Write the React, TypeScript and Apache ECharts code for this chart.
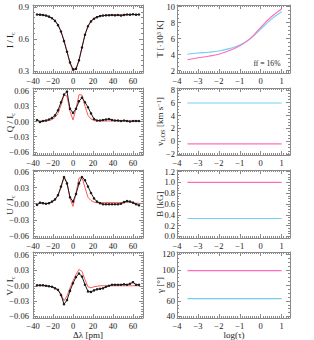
import React, { useEffect, useRef } from 'react';
import * as echarts from 'echarts';

const wavelength = [-36, -33, -30, -27, -24, -21, -18, -15, -12, -9, -6, -3, 0, 3, 6, 9, 12, 15, 18, 21, 24, 27, 30, 33, 36, 39, 42, 45, 48, 51, 54, 57, 60, 63, 66];
const iObs = [0.83, 0.828, 0.825, 0.82, 0.81, 0.795, 0.77, 0.73, 0.67, 0.58, 0.48, 0.38, 0.315, 0.32, 0.4, 0.52, 0.64, 0.72, 0.765, 0.79, 0.805, 0.815, 0.82, 0.822, 0.823, 0.825, 0.822, 0.825, 0.82, 0.826, 0.83, 0.828, 0.832, 0.828, 0.83];
const iFit = [0.83, 0.828, 0.826, 0.82, 0.81, 0.795, 0.772, 0.735, 0.675, 0.59, 0.48, 0.37, 0.305, 0.315, 0.4, 0.525, 0.645, 0.725, 0.77, 0.795, 0.808, 0.815, 0.82, 0.822, 0.824, 0.825, 0.826, 0.826, 0.827, 0.827, 0.828, 0.828, 0.829, 0.829, 0.83];
const qObs = [0.003, -0.001, 0.001, 0.002, 0.004, 0.007, 0.012, 0.022, 0.038, 0.053, 0.059, 0.025, 0.017, 0.025, 0.04, 0.047, 0.038, 0.028, 0.016, 0.005, 0.002, 0.002, 0.003, 0.004, 0.005, 0.003, 0.002, 0.002, 0.001, 0.002, 0.001, 0.0, 0.001, 0.001, 0.001];
const qFit = [0.002, 0.001, 0.001, 0.001, 0.002, 0.004, 0.008, 0.016, 0.032, 0.052, 0.05, 0.02, 0.003, 0.025, 0.053, 0.052, 0.03, 0.012, 0.005, 0.002, 0.001, 0.001, 0.001, 0.001, 0.001, 0.001, 0.001, 0.001, 0.001, 0.001, 0.001, 0.001, 0.001, 0.001, 0.001];
const uObs = [-0.002, 0.002, 0.001, 0.0, 0.001, 0.004, 0.008, 0.016, 0.032, 0.05, 0.038, 0.012, 0.004, 0.018, 0.038, 0.05, 0.044, 0.032, 0.02, 0.01, 0.004, 0.001, -0.001, -0.001, -0.001, -0.001, -0.001, -0.001, 0.0, 0.003, 0.005, 0.004, 0.002, -0.001, -0.003];
const uFit = [-0.001, 0.001, 0.001, 0.0, 0.001, 0.003, 0.007, 0.015, 0.03, 0.05, 0.04, 0.01, -0.005, 0.02, 0.048, 0.049, 0.03, 0.012, 0.006, 0.003, 0.002, 0.002, 0.002, 0.002, 0.002, 0.002, 0.002, 0.002, 0.002, 0.003, 0.003, 0.003, 0.002, 0.001, 0.001];
const vObs = [0.001, 0.001, 0.001, 0.0, -0.001, -0.002, -0.005, -0.008, -0.018, -0.036, -0.028, -0.01, 0.005, 0.017, 0.024, 0.018, 0.002, -0.011, -0.012, -0.009, -0.007, -0.006, -0.005, -0.002, 0.0, 0.002, 0.002, 0.002, 0.002, 0.003, 0.002, 0.004, 0.007, 0.002, 0.002];
const vFit = [0.0, 0.0, 0.0, 0.0, -0.001, -0.002, -0.004, -0.008, -0.016, -0.029, -0.02, -0.004, 0.01, 0.022, 0.032, 0.028, 0.012, -0.002, -0.004, -0.002, -0.001, 0.0, 0.0, 0.0, 0.0, 0.0, 0.0, 0.0, 0.0, 0.0, 0.0, 0.0, 0.0, 0.0, 0.0];

const logTau = [-3.5, -3, -2.5, -2, -1.5, -1, -0.5, 0, 0.5, 1];
const tempBlue = [4.05, 4.2, 4.3, 4.45, 4.75, 5.2, 6.0, 7.2, 8.4, 9.35];
const tempPink = [3.35, 3.6, 3.8, 4.05, 4.5, 5.1, 6.0, 7.4, 8.7, 9.7];
const logTauEnds = [-3.5, 1];
const vlosBlue = [5.95, 5.95];
const vlosPink = [-0.42, -0.42];
const bBlue = [0.33, 0.33];
const bPink = [1.0, 1.0];
const gammaBlue = [63, 63];
const gammaPink = [99, 99];

const leftXTicks = [-40, -20, 0, 20, 40, 60];
const rightXTicks = [-4, -3, -2, -1, 0, 1];
const iTicks = [0.3, 0.6, 0.9];
const stokesTicks = [-0.06, -0.03, 0, 0.03, 0.06];
const tTicks = [2, 4, 6, 8, 10];
const vTicks = [-2, 0, 2, 4, 6, 8];
const bTicks = [0, 0.2, 0.4, 0.6, 0.8, 1.0, 1.2];
const gTicks = [40, 60, 80, 100, 120];

const FONT = 'Liberation Serif';
const FRAME = '#8a8a8a';
const TXT = '#222';
const OBS = '#1a1a1a';
const FIT = '#ff5a5a';
const PINK = '#ff6cba';
const BLUE = '#72cff2';
const LABEL_SIZE = 8.5;
const NAME_SIZE = 9;

const minus = (s: string) => s.replace('-', '\u2212');
const fmtInt = (v: number) => minus(String(Math.round(v)));
const fmt1 = (v: number) => minus(v.toFixed(1));
const fmt2 = (v: number) => minus(v.toFixed(2));

function minorList(min: number, max: number, step: number) {
  const out: number[] = [];
  const n0 = Math.ceil(min / step - 1e-9);
  const n1 = Math.floor(max / step + 1e-9);
  for (let n = n0; n <= n1; n++) out.push(+(n * step).toFixed(6));
  return out;
}

export default function App() {
  const ref = useRef<HTMLDivElement>(null);
  useEffect(() => {
    if (!ref.current) return;
    const chart = echarts.init(ref.current, undefined, { renderer: 'svg' });
    const grids: any[] = [];
    const xAxes: any[] = [];
    const yAxes: any[] = [];
    const series: any[] = [];
    const graphics: any[] = [];

    const tops = [5, 88, 170, 252];
    const heights = [68, 67, 68, 66];

    function addAxes(kind: 'x' | 'y', gi: number, min: number, max: number, ticks: number[], minorStep: number, fmt: (v: number) => string, margin: number) {
      const arr = kind === 'x' ? xAxes : yAxes;
      const mainPos = kind === 'x' ? 'bottom' : 'left';
      const oppPos = kind === 'x' ? 'top' : 'right';
      const minors = minorList(min, max, minorStep);
      const base = {
        gridIndex: gi, type: 'value', min, max, splitLine: { show: false },
      };
      const mainIndex = arr.length;
      arr.push({
        ...base, position: mainPos,
        axisLine: { show: true, onZero: false, lineStyle: { color: FRAME, width: 1 } },
        axisTick: { show: true, inside: true, length: 4, customValues: ticks, lineStyle: { color: FRAME } },
        axisLabel: {
          show: true, customValues: ticks, formatter: fmt, fontFamily: FONT, fontSize: LABEL_SIZE, color: TXT,
          margin, showMinLabel: true, showMaxLabel: true, hideOverlap: false,
        },
      });
      arr.push({
        ...base, position: mainPos,
        axisLine: { show: false, onZero: false },
        axisTick: { show: true, inside: true, length: 2, customValues: minors, lineStyle: { color: FRAME } },
        axisLabel: { show: false },
      });
      arr.push({
        ...base, position: oppPos,
        axisLine: { show: true, onZero: false, lineStyle: { color: FRAME, width: 1 } },
        axisTick: { show: true, inside: true, length: 4, customValues: ticks, lineStyle: { color: FRAME } },
        axisLabel: { show: false },
      });
      arr.push({
        ...base, position: oppPos,
        axisLine: { show: false, onZero: false },
        axisTick: { show: true, inside: true, length: 2, customValues: minors, lineStyle: { color: FRAME } },
        axisLabel: { show: false },
      });
      return mainIndex;
    }

    const rich = {
      sub: { fontFamily: FONT, fontSize: 6.5, fill: TXT, padding: [5, 0, 0, 0] },
      sup: { fontFamily: FONT, fontSize: 6.5, fill: TXT, padding: [0, 0, 4, 0] },
    };
    function addName(text: string, x: number, y: number, rotated: boolean) {
      graphics.push({
        type: 'text', x, y, rotation: rotated ? Math.PI / 2 : 0,
        style: {
          text, fontFamily: FONT, fontSize: NAME_SIZE, fill: TXT,
          align: 'center', verticalAlign: 'middle', rich,
        },
      });
    }

    const leftPanels = [
      { name: 'I / I{sub|c}', min: 0.281, max: 0.919, ticks: iTicks, fmt: fmt1, obs: iObs, fit: iFit },
      { name: 'Q / I{sub|c}', min: -0.066, max: 0.066, ticks: stokesTicks, fmt: fmt2, obs: qObs, fit: qFit },
      { name: 'U / I{sub|c}', min: -0.064, max: 0.063, ticks: stokesTicks, fmt: fmt2, obs: uObs, fit: uFit },
      { name: 'V / I{sub|c}', min: -0.063, max: 0.066, ticks: stokesTicks, fmt: fmt2, obs: vObs, fit: vFit },
    ];
    leftPanels.forEach((p, k) => {
      const gi = grids.length;
      grids.push({ left: 33, width: 110, top: tops[k], height: heights[k] });
      const xi = addAxes('x', gi, -40, 70, leftXTicks, 2, fmtInt, 3);
      const yi = addAxes('y', gi, p.min, p.max, p.ticks, (p.ticks[1] - p.ticks[0]) / 6, p.fmt, 4);
      addName(p.name, 10, tops[k] + heights[k] / 2 + 1, true);
      series.push({
        type: 'line', xAxisIndex: xi, yAxisIndex: yi,
        data: wavelength.map((w, i) => [w, p.fit[i]]),
        showSymbol: false, symbol: 'none', lineStyle: { color: FIT, width: 1 }, z: 2,
      });
      series.push({
        type: 'line', xAxisIndex: xi, yAxisIndex: yi,
        data: wavelength.map((w, i) => [w, p.obs[i]]),
        symbol: 'circle', symbolSize: 2.5, itemStyle: { color: OBS },
        lineStyle: { color: OBS, width: 1 }, z: 3,
      });
    });
    addName('\u0394\u03bb [pm]', 88, 335, false);

    const rightPanels = [
      { name: 'T [\u00b710{sup|3} K]', min: 1.7, max: 10.2, ticks: tTicks, minor: 0.5, fmt: fmtInt, x: logTau, blue: tempBlue, pink: tempPink },
      { name: 'v{sub|LOS} [km s{sup|\u22121}]', min: -2.15, max: 8.3, ticks: vTicks, minor: 0.5, fmt: fmtInt, x: logTauEnds, blue: vlosBlue, pink: vlosPink },
      { name: 'B [kG]', min: -0.03, max: 1.23, ticks: bTicks, minor: 0.05, fmt: fmt1, x: logTauEnds, blue: bBlue, pink: bPink },
      { name: '\u03b3 [\u00b0]', min: 38, max: 123, ticks: gTicks, minor: 5, fmt: fmtInt, x: logTauEnds, blue: gammaBlue, pink: gammaPink },
    ];
    rightPanels.forEach((p, k) => {
      const gi = grids.length;
      grids.push({ left: 177, width: 113, top: tops[k], height: heights[k] });
      const xi = addAxes('x', gi, -4, 1.4, rightXTicks, 0.1, fmtInt, 3);
      const yi = addAxes('y', gi, p.min, p.max, p.ticks, p.minor, p.fmt, 2);
      addName(p.name, 160, tops[k] + heights[k] / 2, true);
      series.push({
        type: 'line', xAxisIndex: xi, yAxisIndex: yi,
        data: p.x.map((t, i) => [t, p.blue[i]]), smooth: true,
        symbol: 'none', lineStyle: { color: BLUE, width: 1.1 },
      });
      series.push({
        type: 'line', xAxisIndex: xi, yAxisIndex: yi,
        data: p.x.map((t, i) => [t, p.pink[i]]), smooth: true,
        symbol: 'none', lineStyle: { color: PINK, width: 1.1 },
      });
    });
    addName('log(\u03c4)', 234, 335, false);

    graphics.push({
      type: 'text', x: 267, y: 63, scaleX: 0.85,
      style: { text: 'ff = 16%', fontFamily: FONT, fontSize: 9, fill: TXT, align: 'center', verticalAlign: 'middle' },
    });

    chart.setOption({
      animation: false,
      backgroundColor: '#fff',
      grid: grids,
      xAxis: xAxes,
      yAxis: yAxes,
      series,
      graphic: graphics,
    });
    return () => chart.dispose();
  }, []);
  return <div ref={ref} style={{ position: 'absolute', left: 0, top: 0, width: 314, height: 340 }} />;
}
